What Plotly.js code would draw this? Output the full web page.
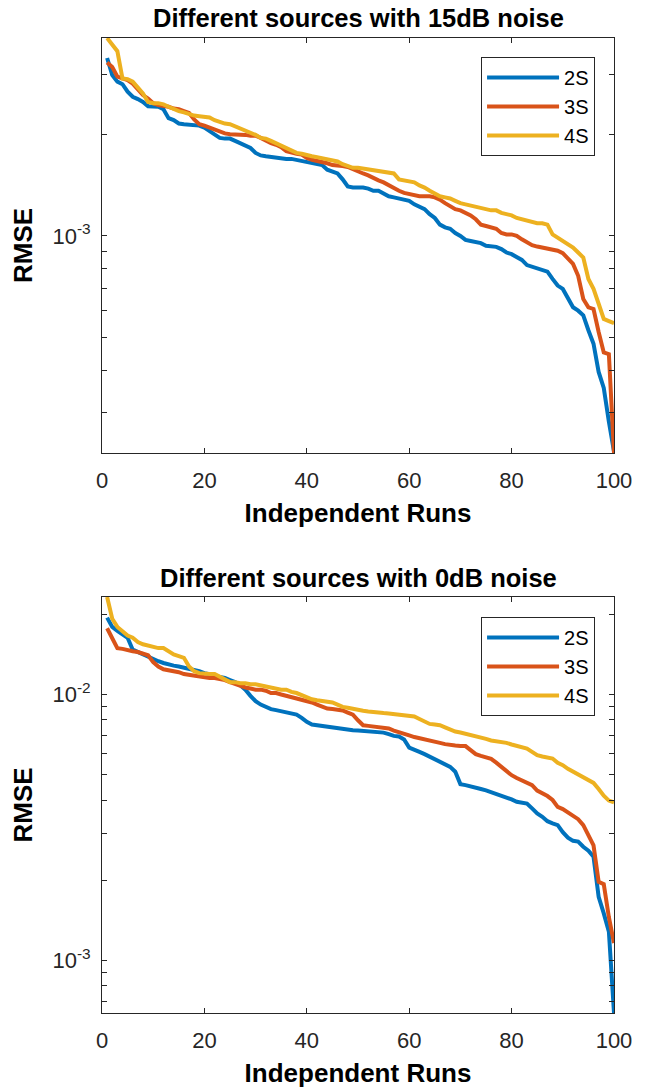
<!DOCTYPE html>
<html>
<head>
<meta charset="utf-8">
<script src="https://cdn.plot.ly/plotly-3.0.1.min.js"></script>
<style>html,body{margin:0;padding:0;background:#fff;}</style>
</head>
<body>
<div id="chart" style="width:649px;height:1089px;"></div>
<script>
// ---------- data ----------
const runs = [1,2,3,4,5,6,7,8,9,10,11,12,13,14,15,16,17,18,19,20,21,22,23,24,25,26,27,28,29,30,31,32,33,34,35,36,37,38,39,40,41,42,43,44,45,46,47,48,49,50,51,52,53,54,55,56,57,58,59,60,61,62,63,64,65,66,67,68,69,70,71,72,73,74,75,76,77,78,79,80,81,82,83,84,85,86,87,88,89,90,91,92,93,94,95,96,97,98,99,100];
const seriesNames = ['2S', '3S', '4S'];
const seriesColors = ['#0072BD', '#D95319', '#EDB120'];

// 15 dB noise (RMSE)
const rmse15_2S = [0.00336,0.00299,0.00286,0.00281,0.00267,0.00258,0.00254,0.00249,0.00242,0.00241,0.00241,0.00237,0.00223,0.00220,0.00215,0.00214,0.00213,0.00213,0.00212,0.00209,0.00204,0.00199,0.00195,0.00194,0.00194,0.00191,0.00188,0.00185,0.00182,0.00176,0.00173,0.00172,0.00171,0.00171,0.00170,0.00169,0.00169,0.00168,0.00166,0.00165,0.00164,0.00163,0.00162,0.00157,0.00155,0.00153,0.00147,0.00140,0.00139,0.00139,0.00139,0.00138,0.00136,0.00136,0.00133,0.00131,0.00130,0.00129,0.00128,0.00127,0.00124,0.00122,0.00120,0.00116,0.00113,0.00108,0.00106,0.00105,0.00102,0.00100,0.000973,0.000966,0.000960,0.000952,0.000935,0.000930,0.000928,0.000914,0.000893,0.000883,0.000863,0.000849,0.000820,0.000811,0.000802,0.000794,0.000784,0.000746,0.000713,0.000697,0.000651,0.000615,0.000601,0.000582,0.000526,0.000480,0.000396,0.000355,0.000282,0.000230];
const rmse15_3S = [0.00326,0.00316,0.00296,0.00292,0.00289,0.00282,0.00270,0.00261,0.00255,0.00247,0.00244,0.00243,0.00241,0.00238,0.00237,0.00234,0.00231,0.00221,0.00214,0.00212,0.00209,0.00206,0.00204,0.00201,0.00200,0.00200,0.00200,0.00199,0.00198,0.00198,0.00195,0.00191,0.00188,0.00186,0.00183,0.00178,0.00176,0.00175,0.00174,0.00170,0.00168,0.00167,0.00166,0.00164,0.00162,0.00162,0.00161,0.00160,0.00158,0.00156,0.00153,0.00151,0.00148,0.00146,0.00144,0.00141,0.00139,0.00136,0.00134,0.00133,0.00132,0.00131,0.00131,0.00131,0.00130,0.00128,0.00125,0.00122,0.00120,0.00119,0.00117,0.00115,0.00112,0.00108,0.00107,0.00106,0.00105,0.00102,0.00101,0.00101,0.00100,0.000977,0.000955,0.000939,0.000930,0.000924,0.000920,0.000914,0.000904,0.000889,0.000858,0.000826,0.000762,0.000651,0.000615,0.000608,0.000520,0.000452,0.000447,0.000228];
const rmse15_4S = [0.00385,0.00366,0.00352,0.00292,0.00291,0.00286,0.00276,0.00264,0.00249,0.00247,0.00247,0.00245,0.00241,0.00237,0.00234,0.00232,0.00229,0.00227,0.00226,0.00225,0.00224,0.00220,0.00217,0.00215,0.00214,0.00211,0.00207,0.00204,0.00202,0.00199,0.00195,0.00194,0.00191,0.00188,0.00185,0.00183,0.00180,0.00176,0.00175,0.00173,0.00172,0.00171,0.00170,0.00169,0.00168,0.00166,0.00163,0.00161,0.00159,0.00159,0.00158,0.00157,0.00156,0.00156,0.00155,0.00154,0.00153,0.00147,0.00146,0.00145,0.00144,0.00141,0.00139,0.00136,0.00133,0.00131,0.00130,0.00129,0.00127,0.00125,0.00124,0.00123,0.00122,0.00121,0.00120,0.00119,0.00119,0.00117,0.00116,0.00115,0.00113,0.00112,0.00111,0.00110,0.00109,0.00109,0.00108,0.00101,0.000989,0.000966,0.000945,0.000924,0.000893,0.000863,0.000746,0.000697,0.000630,0.000568,0.000560,0.000552];

// 0 dB noise (RMSE)
const rmse0_2S = [0.0194,0.0179,0.0173,0.0168,0.0163,0.0147,0.0144,0.0141,0.0138,0.0136,0.0133,0.0131,0.0129,0.0128,0.0127,0.0126,0.0125,0.0124,0.0122,0.0120,0.0119,0.0118,0.0116,0.0115,0.0113,0.0111,0.0108,0.0104,0.00986,0.00941,0.00914,0.00896,0.00879,0.00871,0.00863,0.00859,0.00853,0.00838,0.00815,0.00787,0.00769,0.00764,0.00760,0.00754,0.00747,0.00740,0.00736,0.00734,0.00732,0.00730,0.00728,0.00726,0.00724,0.00722,0.00717,0.00708,0.00697,0.00693,0.00676,0.00630,0.00616,0.00607,0.00595,0.00581,0.00571,0.00557,0.00546,0.00533,0.00511,0.00459,0.00455,0.00451,0.00446,0.00440,0.00435,0.00428,0.00424,0.00417,0.00411,0.00402,0.00394,0.00392,0.00388,0.00372,0.00356,0.00346,0.00333,0.00327,0.00322,0.00303,0.00289,0.00281,0.00279,0.00267,0.00258,0.00245,0.00173,0.00150,0.00128,0.000633];
const rmse0_3S = [0.0177,0.0162,0.0149,0.0148,0.0146,0.0145,0.0144,0.0142,0.0140,0.0132,0.0127,0.0124,0.0123,0.0122,0.0121,0.0119,0.0118,0.0117,0.0116,0.0116,0.0115,0.0115,0.0114,0.0113,0.0111,0.0109,0.0107,0.0106,0.0105,0.0104,0.0104,0.0103,0.0101,0.0101,0.00997,0.00986,0.00977,0.00964,0.00955,0.00941,0.00931,0.00914,0.00896,0.00883,0.00879,0.00876,0.00869,0.00853,0.00838,0.00798,0.00764,0.00760,0.00756,0.00754,0.00750,0.00743,0.00730,0.00718,0.00708,0.00700,0.00690,0.00684,0.00678,0.00670,0.00664,0.00656,0.00649,0.00643,0.00641,0.00639,0.00638,0.00616,0.00595,0.00586,0.00576,0.00571,0.00553,0.00533,0.00515,0.00496,0.00484,0.00475,0.00464,0.00455,0.00434,0.00424,0.00414,0.00400,0.00377,0.00370,0.00360,0.00351,0.00339,0.00322,0.00295,0.00270,0.00197,0.00193,0.00145,0.00116];
const rmse0_4S = [0.0232,0.0192,0.0179,0.0172,0.0166,0.0163,0.0157,0.0154,0.0152,0.0151,0.0149,0.0149,0.0145,0.0141,0.0139,0.0137,0.0127,0.0122,0.0120,0.0119,0.0119,0.0119,0.0116,0.0113,0.0111,0.0111,0.0110,0.0110,0.0109,0.0109,0.0108,0.0107,0.0106,0.0105,0.0104,0.0104,0.0102,0.0101,0.00991,0.00977,0.00957,0.00949,0.00941,0.00941,0.00931,0.00914,0.00896,0.00889,0.00879,0.00873,0.00866,0.00861,0.00855,0.00853,0.00849,0.00846,0.00841,0.00836,0.00832,0.00829,0.00824,0.00807,0.00789,0.00773,0.00769,0.00764,0.00750,0.00736,0.00724,0.00718,0.00711,0.00705,0.00697,0.00689,0.00679,0.00670,0.00666,0.00664,0.00656,0.00647,0.00638,0.00634,0.00625,0.00607,0.00590,0.00583,0.00578,0.00573,0.00552,0.00541,0.00524,0.00511,0.00499,0.00488,0.00475,0.00464,0.00440,0.00415,0.00398,0.00392];

// ticks
const xTickVals = [0, 20, 40, 60, 80, 100];
const xTickText = ['0', '20', '40', '60', '80', '100'];
const yMajorVals15 = [0.001];
const yMajorText15 = ['10<sup>-3</sup>'];
const yMinorVals15 = [0.0003,0.0004,0.0005,0.0006,0.0007,0.0008,0.0009,0.002,0.003];
const yMajorVals0 = [0.001, 0.01];
const yMajorText0 = ['10<sup>-3</sup>', '10<sup>-2</sup>'];
const yMinorVals0 = [0.0007,0.0008,0.0009,0.002,0.003,0.004,0.005,0.006,0.007,0.008,0.009,0.02];

const titles = ['Different sources with 15dB noise', 'Different sources with 0dB noise'];
const xTitle = 'Independent Runs';
const yTitle = 'RMSE';

// ---------- build ----------
const FONT = 'Liberation Sans, Arial, Helvetica, sans-serif';
const groups15 = [rmse15_2S, rmse15_3S, rmse15_4S];
const groups0 = [rmse0_2S, rmse0_3S, rmse0_4S];

const traces = [];
groups15.forEach((ys, i) => traces.push({
  x: runs, y: ys, type: 'scatter', mode: 'lines', name: seriesNames[i],
  line: {color: seriesColors[i], width: 4}, xaxis: 'x', yaxis: 'y', legend: 'legend'
}));
groups0.forEach((ys, i) => traces.push({
  x: runs, y: ys, type: 'scatter', mode: 'lines', name: seriesNames[i],
  line: {color: seriesColors[i], width: 4}, xaxis: 'x2', yaxis: 'y2', legend: 'legend2'
}));

function logRange(groups) {
  const all = [].concat(...groups);
  return [Math.log10(Math.min(...all)), Math.log10(Math.max(...all))];
}

const axisBase = {
  showline: true, linecolor: '#262626', linewidth: 1, mirror: 'allticks',
  ticks: 'inside', ticklen: 5, tickwidth: 1, tickcolor: '#262626',
  showgrid: false, zeroline: false, automargin: false,
  tickfont: {family: FONT, size: 22, color: '#262626'}
};
const axTitleFont = {family: FONT, size: 26, color: '#000', weight: 'bold'};

function xAx(anchor) {
  return Object.assign({}, axisBase, {
    anchor: anchor, domain: [0, 1], range: [0, 100],
    tickmode: 'array', tickvals: xTickVals, ticktext: xTickText,
    ticklabelstandoff: 8,
    title: {text: xTitle, font: axTitleFont, standoff: 11}
  });
}
function yAx(anchor, domain, vals, text, minorVals, groups) {
  return Object.assign({}, axisBase, {
    anchor: anchor, domain: domain, type: 'log', range: logRange(groups),
    tickmode: 'array', tickvals: vals, ticktext: text,
    minor: {tickmode: 'array', tickvals: minorVals, ticks: 'inside', ticklen: 5, tickwidth: 1, tickcolor: '#262626', showgrid: false},
    ticklabelstandoff: 6,
    title: {text: yTitle, font: axTitleFont, standoff: 12}
  });
}
const legendBase = {
  xanchor: 'right', yanchor: 'top', bgcolor: '#fff', bordercolor: '#262626', borderwidth: 1,
  font: {family: FONT, size: 20, color: '#000'}, itemwidth: 72, tracegroupgap: 0
};

const layout = {
  width: 649, height: 1089,
  margin: {l: 102, r: 35, t: 38, b: 76},
  paper_bgcolor: '#fff', plot_bgcolor: '#fff',
  showlegend: true,
  xaxis: xAx('y'),
  yaxis: yAx('x', [0.5744, 1], yMajorVals15, yMajorText15, yMinorVals15, groups15),
  xaxis2: xAx('y2'),
  yaxis2: yAx('x2', [0, 0.4267], yMajorVals0, yMajorText0, yMinorVals0, groups0),
  legend: Object.assign({}, legendBase, {x: 0.963, y: 0.9805}),
  legend2: Object.assign({}, legendBase, {x: 0.963, y: 0.4062}),
  annotations: [
    {text: titles[0], xref: 'paper', yref: 'paper', x: 0.5, y: 1.0205, xanchor: 'center', yanchor: 'middle', showarrow: false,
     font: {family: FONT, size: 25.5, color: '#000', weight: 'bold'}},
    {text: titles[1], xref: 'paper', yref: 'paper', x: 0.5, y: 0.4462, xanchor: 'center', yanchor: 'middle', showarrow: false,
     font: {family: FONT, size: 25.5, color: '#000', weight: 'bold'}}
  ]
};

Plotly.newPlot('chart', traces, layout, {staticPlot: true, displayModeBar: false});
</script>
</body>
</html>
